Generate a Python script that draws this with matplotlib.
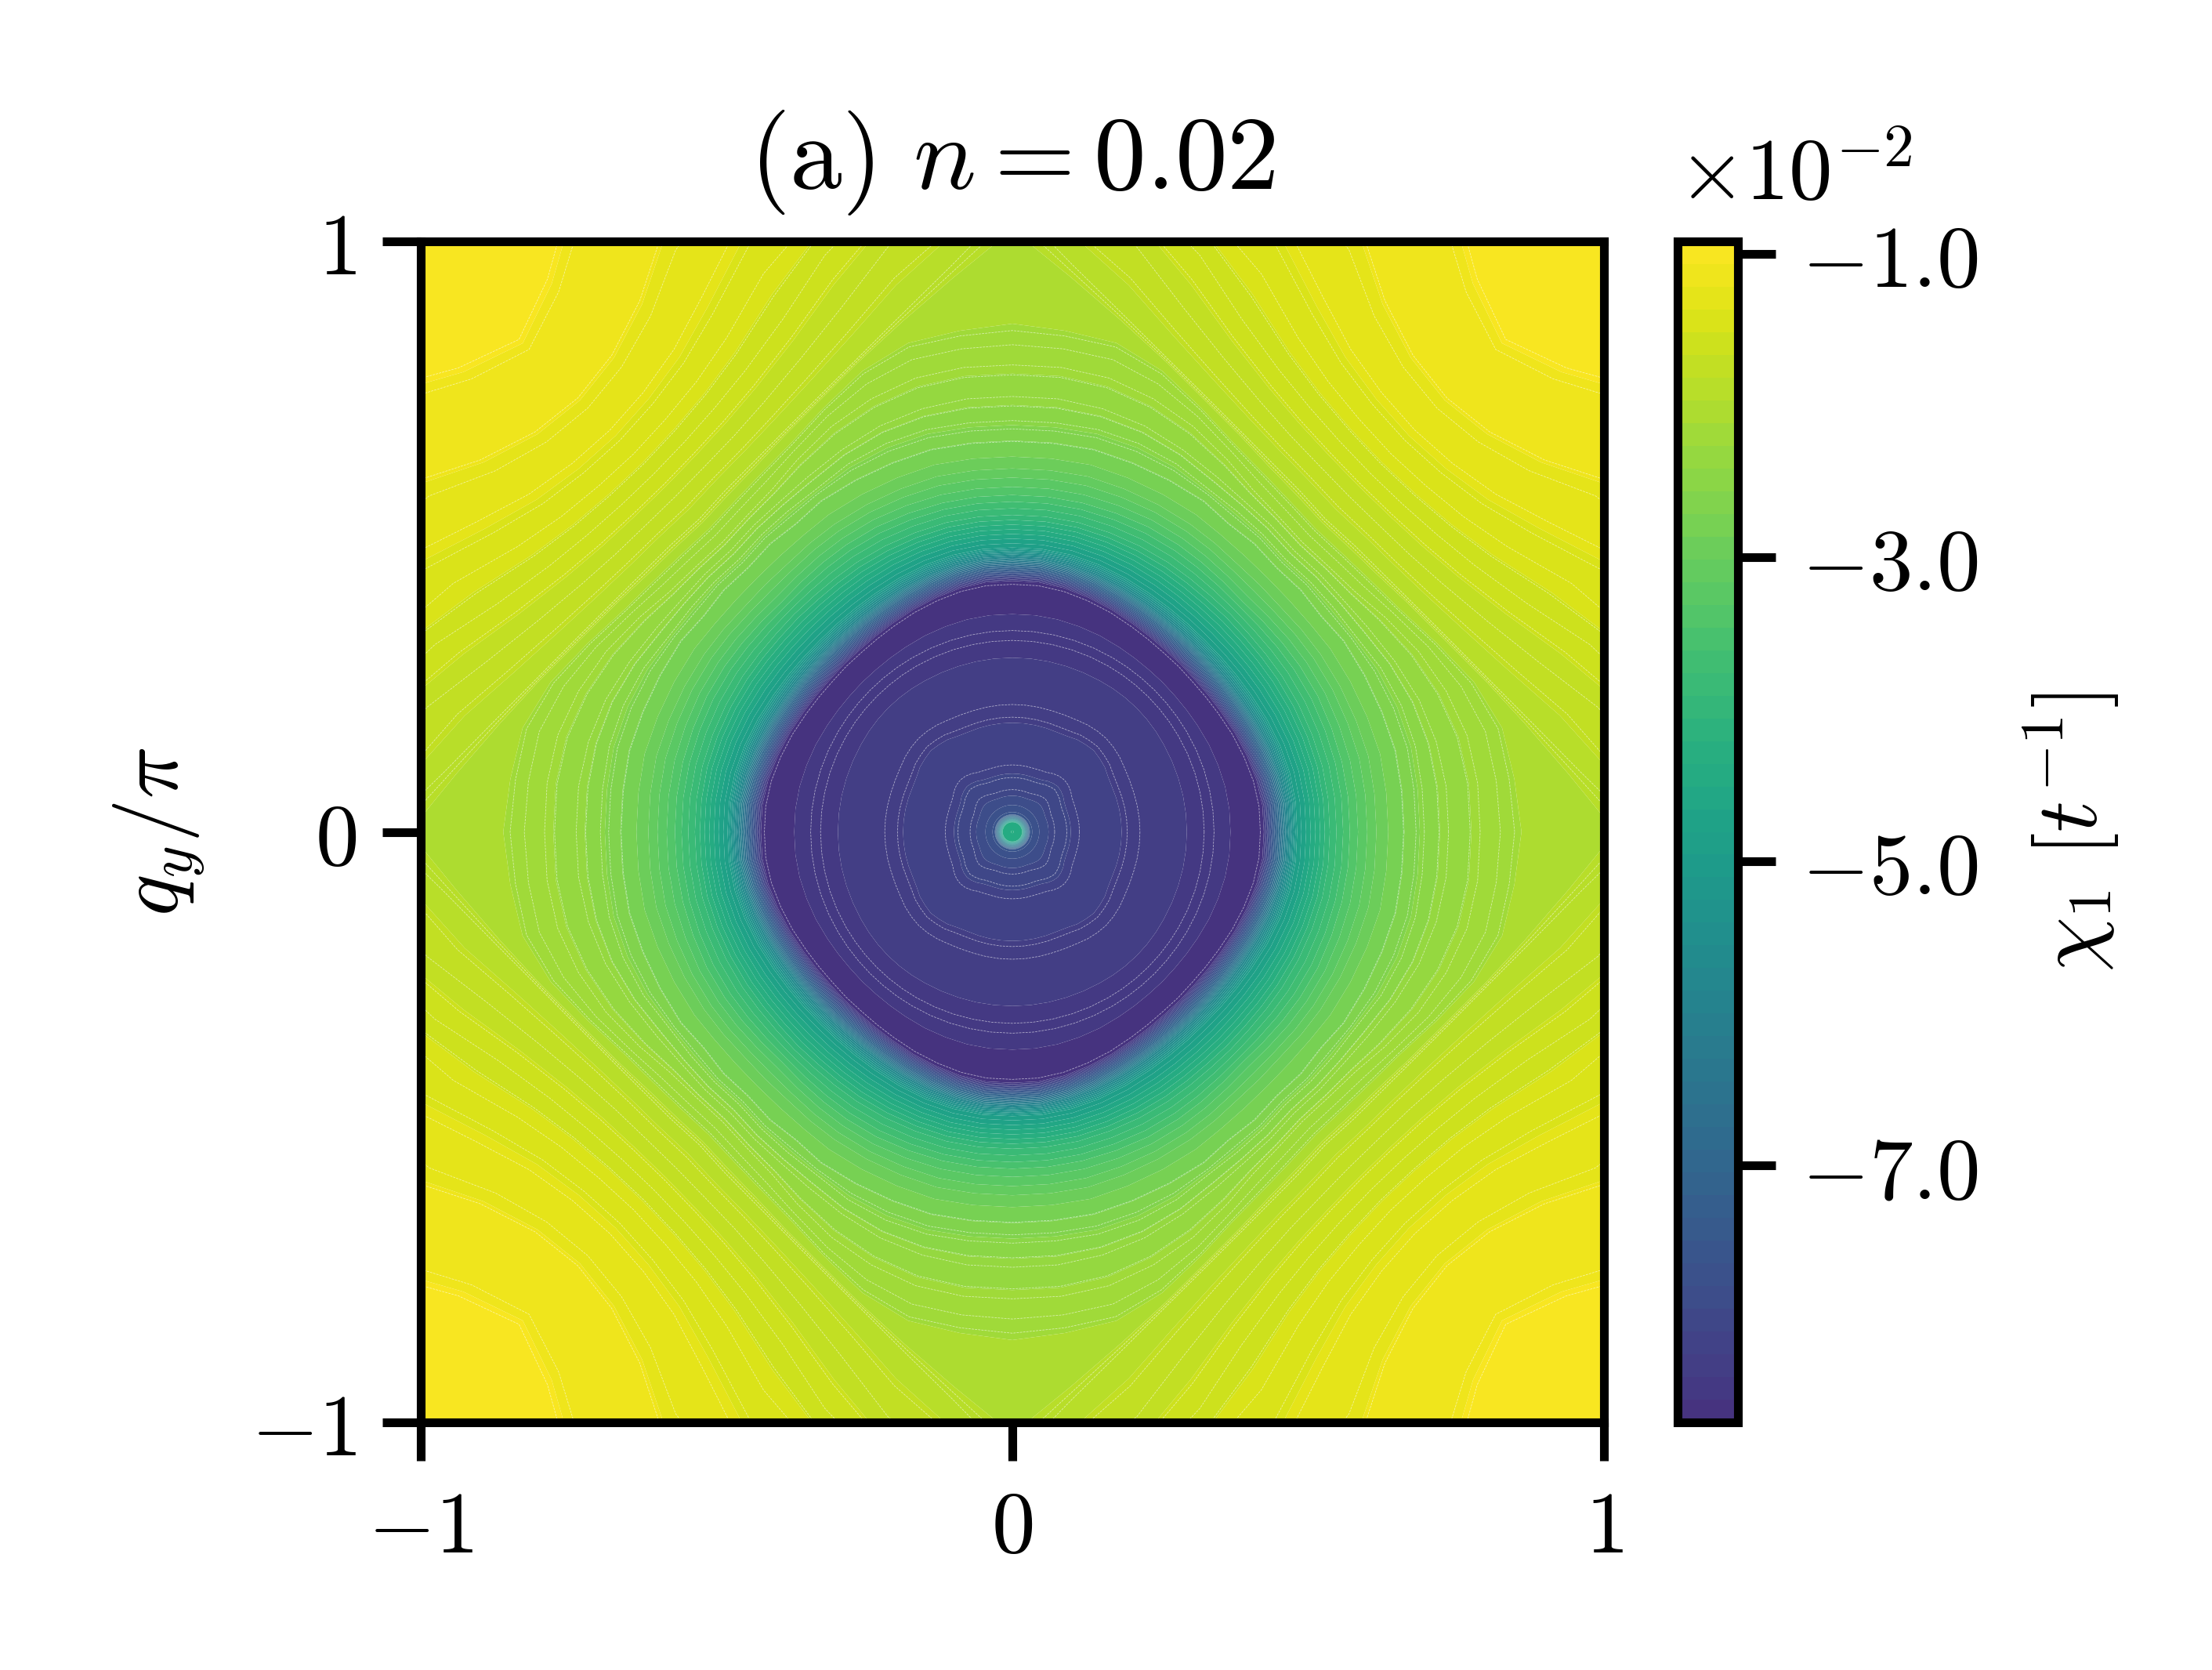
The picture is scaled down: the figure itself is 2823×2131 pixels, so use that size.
import numpy as np
import matplotlib
matplotlib.use("Agg")
import matplotlib.pyplot as plt

plt.rcParams['mathtext.fontset'] = 'cm'
plt.rcParams['font.family'] = 'DejaVu Serif'
plt.rcParams['axes.linewidth'] = 1.0

# angles of the octant (deg), the rest comes from the mirror symmetry
angles = [0, 6, 12, 18, 24, 30, 35, 40, 45]

chi_rows = [-4.35, -4.40, -6.0, -7.6, -7.85, -8.0, -8.06, -8.12, -8.25, -8.29, -8.42, -8.46, -8.62, -8.68,
            -8.0, -6.9, -5.9, -4.93, -3.93, -3.4, -2.92, -2.7, -2.5, -2.35, -2.22, -2.12, -2.0,
            -1.88, -1.72, -1.58, -1.45, -1.33, -1.2, -1.05, -0.92]

# radius at which each chi value is found, one column per angle
radius_rows = [
    [0.000, 0.000, 0.000, 0.000, 0.000, 0.000, 0.000, 0.000, 0.000],
    [0.016, 0.016, 0.016, 0.016, 0.016, 0.016, 0.016, 0.016, 0.016],
    [0.022, 0.022, 0.022, 0.022, 0.022, 0.022, 0.022, 0.022, 0.022],
    [0.030, 0.030, 0.030, 0.030, 0.030, 0.030, 0.030, 0.030, 0.030],
    [0.050, 0.050, 0.050, 0.050, 0.050, 0.050, 0.050, 0.050, 0.050],
    [0.068, 0.068, 0.068, 0.068, 0.068, 0.070, 0.072, 0.074, 0.075],
    [0.089, 0.089, 0.089, 0.089, 0.089, 0.091, 0.094, 0.096, 0.098],
    [0.107, 0.107, 0.107, 0.107, 0.108, 0.110, 0.114, 0.117, 0.118],
    [0.190, 0.190, 0.190, 0.190, 0.190, 0.192, 0.196, 0.198, 0.200],
    [0.207, 0.207, 0.207, 0.207, 0.208, 0.210, 0.213, 0.215, 0.216],
    [0.320, 0.320, 0.320, 0.320, 0.320, 0.320, 0.320, 0.320, 0.320],
    [0.337, 0.337, 0.337, 0.337, 0.337, 0.337, 0.337, 0.337, 0.337],
    [0.400, 0.400, 0.398, 0.394, 0.390, 0.385, 0.382, 0.380, 0.380],
    [0.423, 0.423, 0.420, 0.415, 0.410, 0.405, 0.402, 0.400, 0.400],
    [0.433, 0.433, 0.430, 0.425, 0.420, 0.415, 0.412, 0.410, 0.410],
    [0.450, 0.450, 0.447, 0.443, 0.438, 0.433, 0.430, 0.428, 0.428],
    [0.463, 0.463, 0.460, 0.456, 0.451, 0.446, 0.443, 0.441, 0.441],
    [0.482, 0.482, 0.480, 0.476, 0.471, 0.466, 0.463, 0.461, 0.460],
    [0.535, 0.535, 0.534, 0.531, 0.528, 0.525, 0.522, 0.520, 0.520],
    [0.575, 0.575, 0.574, 0.572, 0.570, 0.566, 0.562, 0.558, 0.555],
    [0.625, 0.625, 0.625, 0.620, 0.615, 0.610, 0.605, 0.600, 0.600],
    [0.665, 0.665, 0.665, 0.660, 0.655, 0.650, 0.640, 0.640, 0.635],
    [0.700, 0.700, 0.700, 0.695, 0.685, 0.670, 0.665, 0.660, 0.655],
    [0.740, 0.740, 0.735, 0.725, 0.710, 0.695, 0.685, 0.680, 0.675],
    [0.795, 0.795, 0.790, 0.775, 0.755, 0.730, 0.710, 0.700, 0.695],
    [0.855, 0.850, 0.845, 0.820, 0.785, 0.755, 0.740, 0.730, 0.725],
    [1.000, 0.935, 0.880, 0.835, 0.797, 0.770, 0.752, 0.742, 0.737],
    [1.070, 0.969, 0.898, 0.845, 0.807, 0.780, 0.765, 0.756, 0.750],
    [1.140, 1.080, 1.020, 0.940, 0.883, 0.844, 0.823, 0.812, 0.808],
    [1.220, 1.160, 1.100, 1.033, 0.957, 0.907, 0.881, 0.866, 0.861],
    [1.280, 1.230, 1.170, 1.100, 1.041, 0.971, 0.935, 0.916, 0.909],
    [1.350, 1.310, 1.250, 1.190, 1.140, 1.055, 1.003, 0.976, 0.967],
    [1.420, 1.380, 1.330, 1.280, 1.230, 1.190, 1.106, 1.060, 1.045],
    [1.550, 1.530, 1.500, 1.460, 1.420, 1.370, 1.320, 1.234, 1.189],
    [1.700, 1.680, 1.660, 1.620, 1.580, 1.540, 1.500, 1.460, 1.430],
]

# levels where the thin pale lines sit
inner_lines = [-8.01, -8.07, -8.13, -8.26, -8.30, -8.43, -8.47, -8.67]
outer_lines = [-2.72, -2.52, -2.60, -2.36, -2.42, -2.23, -2.27, -2.13, -2.17,
               -1.89, -1.93, -1.73, -1.80, -1.59, -1.655, -1.46, -1.525, -1.34, -1.39, -1.21, -1.25, -1.06, -1.085]

cbar_ticks = [-1.0, -3.0, -5.0, -7.0]
cbar_labels = ['$-1.0$', '$-3.0$', '$-5.0$', '$-7.0$']
axis_ticks = [-1, 0, 1]
axis_labels = ['$-1$', '$0$', '$1$']

W, H = 2823, 2131
dpi = 800
fig = plt.figure(figsize=(W / dpi, H / dpi), dpi=dpi)
ax = fig.add_axes([537 / W, 1 - 1815 / H, 1510 / W, 1507 / H])
cax = fig.add_axes([2141 / W, 1 - 1815 / H, 77 / W, 1507 / H])

# mirror the octant to the full circle
radius_rows = np.array(radius_rows)
base = np.array(angles, dtype=float)
quarter = np.concatenate([base, 90 - base[-2::-1]])
quarter_r = np.concatenate([radius_rows, radius_rows[:, -2::-1]], axis=1)
theta = np.concatenate([quarter, 90 + quarter[1:], 180 + quarter[1:], 270 + quarter[1:]])
r = np.concatenate([quarter_r, quarter_r[:, 1:], quarter_r[:, 1:], quarter_r[:, 1:]], axis=1)
chi = np.tile(np.array(chi_rows)[:, None], (1, len(theta)))
X = r * np.cos(np.radians(theta))
Y = r * np.sin(np.radians(theta))

levels = np.linspace(-8.69, -0.92, 53)
cf = ax.contourf(X, Y, chi, levels=levels, cmap='viridis', vmin=-9.95, vmax=-0.92, antialiased=True)
for c_slice, lines in ((slice(0, 14), inner_lines), (slice(20, None), sorted(outer_lines))):
    ax.contour(X[c_slice], Y[c_slice], chi[c_slice], levels=sorted(lines), colors='white',
               linewidths=0.07, alpha=0.6)

ax.set_xlim(-1, 1)
ax.set_ylim(-1, 1)
ax.set_xticks(axis_ticks)
ax.set_xticklabels(axis_labels)
ax.set_yticks(axis_ticks)
ax.set_yticklabels(axis_labels)
ax.tick_params(length=4.4, width=1.0, labelsize=10, pad=3)
ax.set_ylabel(r'$q_y/\pi$', fontsize=10, labelpad=5)
ax.set_title(r'$\mathrm{(a)}\ n=0.02$', fontsize=12, pad=6)

cb = fig.colorbar(cf, cax=cax, ticks=cbar_ticks)
cb.ax.set_yticklabels(cbar_labels)
cb.ax.tick_params(length=4.3, width=1.0, labelsize=10, pad=3)
cb.outline.set_linewidth(1.0)
cb.set_label(r'$\chi_1\ [t^{-1}]$', fontsize=10, labelpad=5)
cax.text(0.0, 1.02, r'$\times 10^{-2}$', transform=cax.transAxes, fontsize=10, ha='left', va='bottom')

fig.savefig('out.png', dpi=dpi)
